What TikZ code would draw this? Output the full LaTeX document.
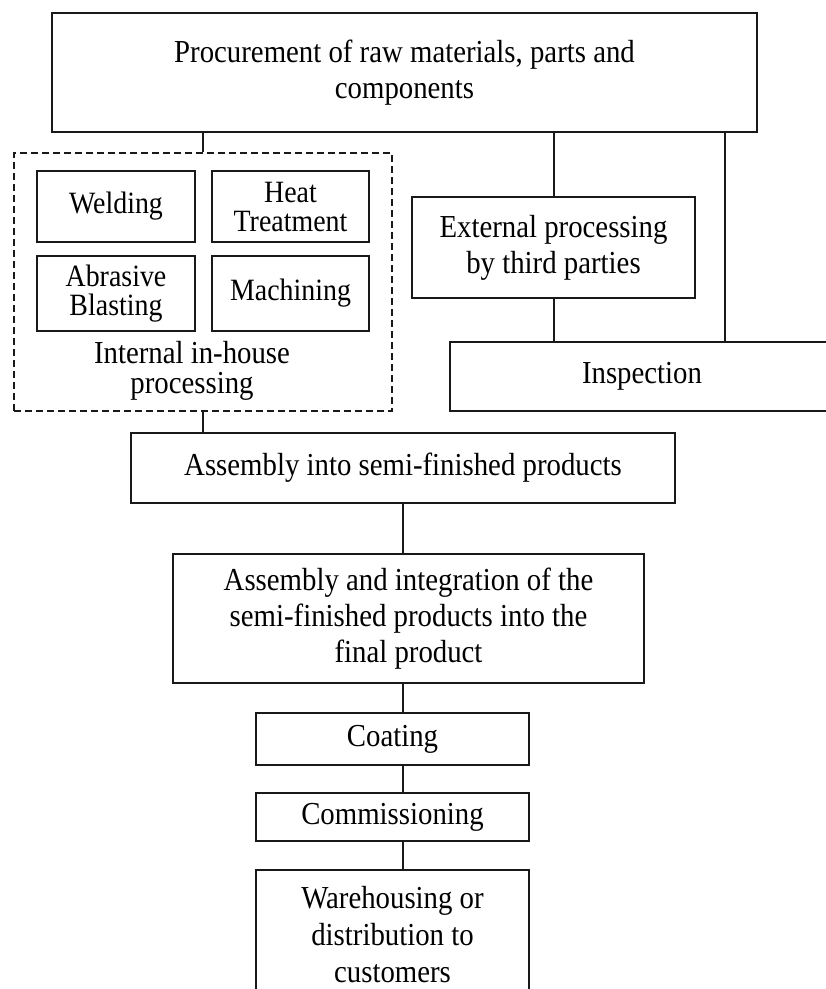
\documentclass[tikz,border=0pt]{standalone}
\usepackage{fontspec}
\setmainfont{Liberation Serif}[FakeStretch=0.9]
\begin{document}
\begin{tikzpicture}[x=1pt,y=-1pt,
  box/.style={draw=black!90,line width=2pt,align=center,inner sep=0pt,
    font=\fontsize{32}{36}\selectfont},
  smallbox/.style={box,font=\fontsize{31}{29}\selectfont},
  grp/.style={draw=black!90,line width=1.8pt,dash pattern=on 7pt off 4pt,inner sep=0pt},
  lbl/.style={align=center,inner sep=0pt,font=\fontsize{32}{30}\selectfont},
  conn/.style={draw=black!90,line width=2pt}]
\useasboundingbox (0,0) rectangle (826,989);
\clip (0,0) rectangle (826,989);
\fill[white] (0,0) rectangle (826,989);
\node[box,minimum width=705pt,minimum height=119pt] (proc) at (404.5,72.5)
  {Procurement of raw materials, parts and\\components};
\node[grp,minimum width=378pt,minimum height=258pt] (inner) at (203,282) {};
\node[smallbox,minimum width=158pt,minimum height=71pt] (weld) at (116,206.5) {Welding};
\node[smallbox,minimum width=157pt,minimum height=71pt] (heat) at (290.5,206.5) {Heat\\Treatment};
\node[smallbox,minimum width=158pt,minimum height=75pt] (abr) at (116,293.5) {Abrasive\\Blasting};
\node[smallbox,minimum width=157pt,minimum height=75pt] (mach) at (290.5,293.5) {Machining};
\node[lbl] (intl) at (192,371) {Internal in-house\\processing};
\node[box,minimum width=283pt,minimum height=101pt] (ext) at (553.5,247.5)
  {External processing\\by third parties};
\node[box,minimum width=384pt,minimum height=69pt] (insp) at (642,376.5) {Inspection};
\node[box,minimum width=544pt,minimum height=70pt] (asm) at (403,468)
  {Assembly into semi-finished products};
\node[box,minimum width=471pt,minimum height=129pt] (final) at (408.5,618.5)
  {Assembly and integration of the\\semi-finished products into the\\final product};
\node[box,minimum width=273pt,minimum height=52pt] (coat) at (392.5,739) {Coating};
\node[box,minimum width=273pt,minimum height=48pt] (comm) at (392.5,817) {Commissioning};
\node[box,minimum width=273pt,minimum height=130pt,font=\fontsize{32}{37}\selectfont] (ware) at (392.5,935)
  {Warehousing or\\distribution to\\customers};
\coordinate (rx) at (725,0);
\coordinate (cx) at (403,0);
\draw[conn] (proc.south -| inner.north) -- (inner.north);
\draw[conn] (proc.south -| ext.north) -- (ext.north);
\draw[conn] (ext.south) -- (ext.south |- insp.north);
\draw[conn] (proc.south -| rx) -- (insp.north -| rx);
\draw[conn] (inner.south) -- (inner.south |- asm.north);
\draw[conn] (asm.south) -- (asm.south |- final.north);
\draw[conn] (final.south -| cx) -- (coat.north -| cx);
\draw[conn] (coat.south -| cx) -- (comm.north -| cx);
\draw[conn] (comm.south -| cx) -- (ware.north -| cx);
\end{tikzpicture}
\end{document}
